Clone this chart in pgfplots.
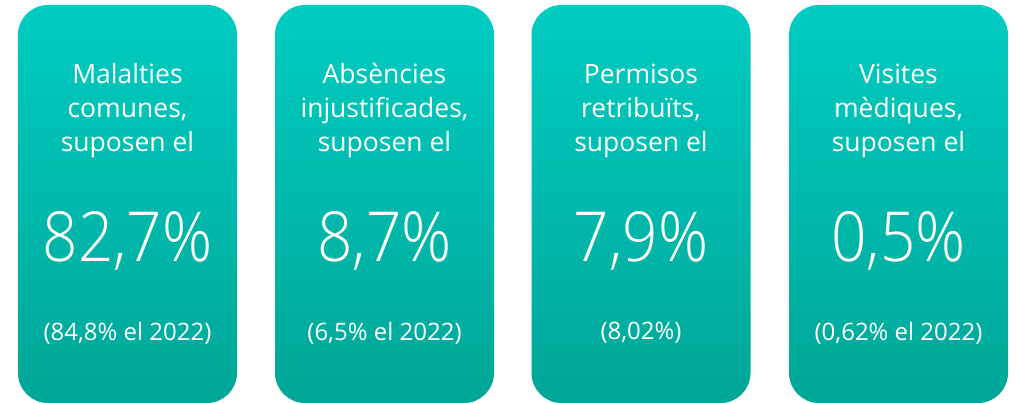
\documentclass[border=0pt]{standalone}
\usepackage{pgfplots}
\pgfplotsset{compat=1.18}
\usepackage{fontspec}
\setmainfont{Open Sans}
\newfontfamily\lightfont[FakeStretch=0.9]{Open Sans Light}
\definecolor{topc}{RGB}{0,204,194}
\definecolor{botc}{RGB}{0,166,150}
\begin{document}
\begin{tikzpicture}
\begin{axis}[
  name=main,
  scale only axis, width=1016pt, height=403pt,
  xmin=0, xmax=1016, ymin=4, ymax=407,
  axis lines=none, clip=true,
  ybar, bar width=219,
]
\addplot[draw=none, top color=topc, bottom color=botc, rounded corners=30pt, bar shift=0pt]
  coordinates {(127.5,402) (384.5,402) (641,402) (898.5,402)};
\end{axis}
\begin{axis}[
  scale only axis, width=1016pt, height=403pt,
  xmin=0, xmax=1016, ymin=4, ymax=407,
  axis lines=none, clip=false,
  nodes={text=white, align=center, inner sep=0pt},
]
\node[font=\fontsize{26.5}{34}\selectfont] at (axis cs:127.5,296) {Malalties\\comunes,\\suposen el};
\node[font=\fontsize{26.5}{34}\selectfont] at (axis cs:384.5,296) {Absències\\injustificades,\\suposen el};
\node[font=\fontsize{26.5}{34}\selectfont] at (axis cs:641,296) {Permisos\\retribuïts,\\suposen el};
\node[font=\fontsize{26.5}{34}\selectfont] at (axis cs:898.5,296) {Visites\\mèdiques,\\suposen el};
\node[font=\lightfont\fontsize{69}{69}\selectfont] at (axis cs:127.5,166) {82,7\%};
\node[font=\lightfont\fontsize{69}{69}\selectfont] at (axis cs:384.5,166) {8,7\%};
\node[font=\lightfont\fontsize{69}{69}\selectfont] at (axis cs:641,166) {7,9\%};
\node[font=\lightfont\fontsize{69}{69}\selectfont] at (axis cs:898.5,166) {0,5\%};
\node[font=\fontsize{24}{24}\selectfont] at (axis cs:127.5,74) {(84,8\% el 2022)};
\node[font=\fontsize{24}{24}\selectfont] at (axis cs:384.5,74) {(6,5\% el 2022)};
\node[font=\fontsize{24}{24}\selectfont] at (axis cs:641,74) {(8,02\%)};
\node[font=\fontsize{24}{24}\selectfont] at (axis cs:898.5,74) {(0,62\% el 2022)};
\end{axis}
\pgfresetboundingbox
\path (main.south west) rectangle (main.north east);
\end{tikzpicture}
\end{document}
